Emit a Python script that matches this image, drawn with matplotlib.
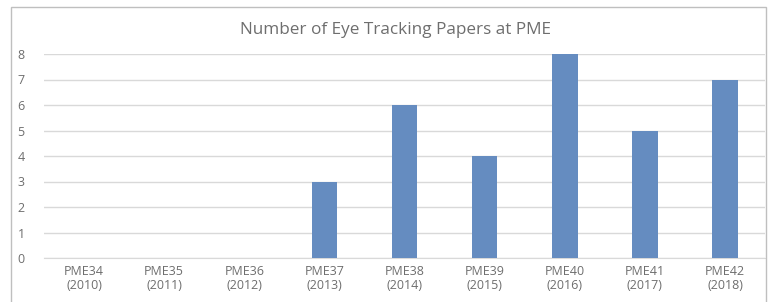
import matplotlib.pyplot as plt
from matplotlib.patches import Rectangle

categories = ["PME34\n(2010)", "PME35\n(2011)", "PME36\n(2012)", "PME37\n(2013)",
              "PME38\n(2014)", "PME39\n(2015)", "PME40\n(2016)", "PME41\n(2017)",
              "PME42\n(2018)"]
values = [0, 0, 0, 3, 6, 4, 8, 5, 7]
yticks = [0, 1, 2, 3, 4, 5, 6, 7, 8]
title = "Number of Eye Tracking Papers at PME"

plt.rcParams['font.family'] = ['Open Sans', 'DejaVu Sans']
W, H = 770, 302
fig = plt.figure(figsize=(W / 100, H / 100), dpi=100)
fig.patch.set_facecolor('white')

# chart border
fig.patches.append(Rectangle((11 / W, -0.02), (766 - 11) / W, (H - 7) / H + 0.02,
                             transform=fig.transFigure, fill=False,
                             edgecolor='#BFBFBF', linewidth=1.0))

x0, x1 = 44, 765
ytop, ybot = 54, 258
ax = fig.add_axes([x0 / W, 1 - ybot / H, (x1 - x0) / W, (ybot - ytop) / H])
xs = list(range(len(categories)))
ax.bar(xs, values, width=0.32, color='#658CC0', zorder=3)
ax.set_xlim(-0.5, len(categories) - 0.5)
ax.set_ylim(0, 8)
ax.set_yticks(yticks)
ax.set_yticklabels([str(v) for v in yticks])
ax.set_xticks(xs)
ax.set_xticklabels(categories, linespacing=1.15)
ax.grid(axis='y', color='#D9D9D9', linewidth=1.0, zorder=0)
for s in ['top', 'right', 'left']:
    ax.spines[s].set_visible(False)
ax.spines['bottom'].set_color('#D9D9D9')
ax.tick_params(axis='both', length=0, colors='#6E6E6E', labelsize=9)
ax.tick_params(axis='y', pad=14)
ax.tick_params(axis='x', pad=5)

fig.text(396 / W, 1 - 30 / H, title, ha='center', va='center',
         fontsize=12.3, color='#6E6E6E')

fig.savefig('out.png', dpi=100, facecolor='white')
